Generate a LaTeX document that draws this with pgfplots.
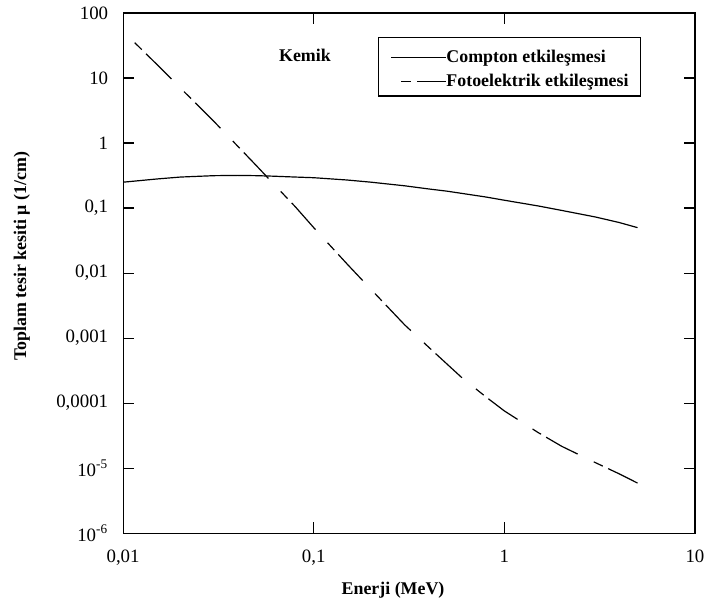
\documentclass[border=0pt]{standalone}
\usepackage{fontspec}
\setmainfont{Liberation Serif}
\usepackage{pgfplots}
\pgfplotsset{compat=1.18}
\usetikzlibrary{calc}
\newcommand{\lstrut}{\rule[-2pt]{0pt}{11pt}}
\begin{document}
\begin{tikzpicture}
\begin{axis}[
  xmode=log, ymode=log,
  scale only axis,
  width=288pt, height=262pt,
  xmin=0.01, xmax=10, ymin=1e-6, ymax=100,
  xtick={0.01,0.1,1,10},
  xticklabels={{0,01},{0,1},{1},{10}},
  ytick={1e-6,1e-5,1e-4,1e-3,1e-2,1e-1,1,10,100},
  yticklabels={{10\textsuperscript{-6}},{10\textsuperscript{-5}},{0,0001},{0,001},{0,01},{0,1},{1},{10},{100}},
  minor tick length=0pt,
  major tick length=5.5pt,
  tick align=inside,
  tick style={black, line width=0.6pt},
  axis line style={line width=0.6pt},
  tick label style={font=\fontsize{9.5}{11}\selectfont},
  /pgf/number format/assume math mode=true,
  xticklabel style={yshift=-5pt},
  yticklabel style={xshift=-4pt},
  every axis x label/.style={at={(rel axis cs:0.472,-0.109)},anchor=center},
  every axis y label/.style={at={(rel axis cs:-0.177,0.532)},rotate=90,anchor=center},
  label style={font=\bfseries\fontsize{9}{11}\selectfont},
  xlabel={Enerji (MeV)},
  ylabel={Toplam tesir kesiti μ (1/cm)},
  legend style={at={(rel axis cs:0.446,0.954)}, anchor=north west,
    draw=black, line width=0.6pt, font=\bfseries\fontsize{9}{11}\selectfont,
    inner xsep=6pt, inner ysep=3.5pt, row sep=1.5pt,
    nodes={inner xsep=0pt, inner ysep=0pt},
    /tikz/every even column/.append style={column sep=1pt},
    cells={anchor=west}},
  legend image code/.code={\draw[#1,line width=0.6pt,dash phase=30pt] (0pt,-1.2pt) -- (27.5pt,-1.2pt);},
  legend cell align=left,
  clip=false,
]
\addplot[black, line width=0.6pt] coordinates {
(0.01,0.25) (0.015,0.28) (0.02,0.30) (0.03,0.315) (0.04,0.318) (0.05,0.315)
(0.06,0.31) (0.08,0.30) (0.1,0.293) (0.15,0.27) (0.2,0.25) (0.3,0.22)
(0.4,0.197) (0.5,0.182) (0.6,0.168) (0.8,0.148) (1,0.132) (1.5,0.108)
(2,0.092) (3,0.073) (4,0.060) (5,0.050)
};
\addlegendentry{\lstrut Compton etkileşmesi}
\addplot[black, line width=0.6pt, dash pattern=on 5pt off 3pt on 18pt off 9pt] coordinates {
(0.0115,35) (0.015,16.3) (0.02,7.0) (0.03,2.14) (0.04,0.89) (0.05,0.45)
(0.06,0.255) (0.08,0.105) (0.1,0.050) (0.15,0.0137) (0.2,0.0056) (0.3,0.0016)
(0.4,0.00073) (0.5,0.00040) (0.6,0.000245) (0.8,0.000125) (1,0.000076)
(1.5,0.0000355) (2,0.0000217) (3,0.0000122) (4,0.0000082) (5,0.0000059)
};
\addlegendentry{\lstrut Fotoelektrik etkileşmesi}
\node[font=\bfseries\fontsize{9}{11}\selectfont] at (rel axis cs:0.318,0.918) {Kemik};
\end{axis}
\path[use as bounding box] ($(current axis.south west)+(-62pt,-39pt)$) rectangle ($(current axis.north east)+(5.5pt,6pt)$);
\end{tikzpicture}
\end{document}
